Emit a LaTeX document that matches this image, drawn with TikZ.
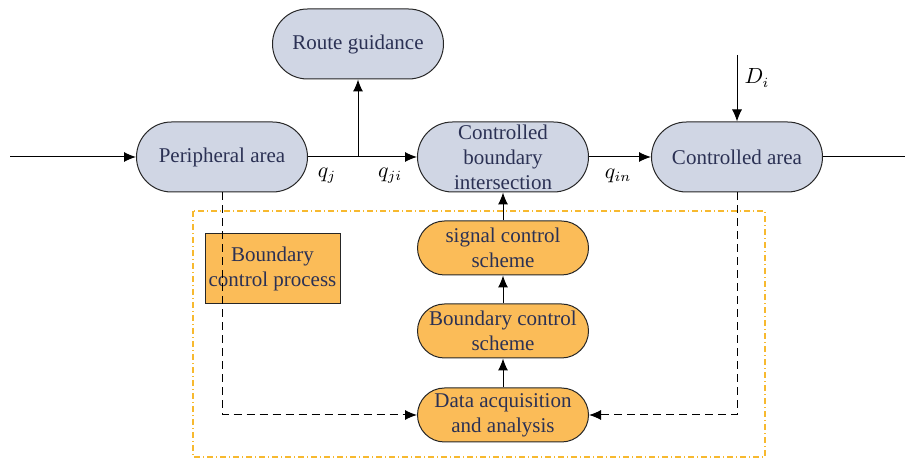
\documentclass[tikz,border=0pt]{standalone}
\usepackage{fontspec}
\setmainfont{Liberation Serif}
\usepackage{amsmath}
\usetikzlibrary{arrows.meta}

\definecolor{areafill}{HTML}{D0D6E4}
\definecolor{schemefill}{HTML}{FBBC58}
\definecolor{textnavy}{HTML}{2B3154}
\definecolor{frameorange}{HTML}{F7B92F}

\tikzset{
  area/.style={draw=black!85, fill=areafill, text=textnavy, align=center,
    rectangle, rounded corners=17.5pt, minimum width=85.5pt, minimum height=35pt,
    inner sep=1pt, font=\fontsize{10.5}{12.5}\selectfont},
  scheme/.style={area, fill=schemefill, rounded corners=13.5pt, minimum height=27pt},
  procbox/.style={draw=black!85, fill=schemefill, text=textnavy, align=center,
    minimum width=67.5pt, minimum height=35pt, inner sep=1pt,
    font=\fontsize{10.5}{12.5}\selectfont},
  flowlabel/.style={font=\fontsize{10.5}{12.5}\selectfont},
  feedback/.style={dash pattern=on 4pt off 2.5pt, ->},
  frame/.style={draw=frameorange, line width=0.6pt,
    dash pattern=on 3pt off 1.5pt on 0.5pt off 1.5pt}
}

\begin{document}
\begin{tikzpicture}[x=0.5pt, y=-0.5pt, line width=0.5pt, >={Latex[length=6pt,width=5pt]}]
    \useasboundingbox (0,0) rectangle (905,458);

    % control loop frame
    \draw[frame] (193,211) rectangle (765,457);

    % upper row
    \node[area] (route) at (358,44) {Route guidance};
    \node[area] (peri) at (222,157) {Peripheral area};
    \node[area] (cbi) at (503,157) {Controlled\\boundary\\intersection};
    \node[area] (ctrl) at (737,157) {Controlled area};

    % control chain
    \node[scheme] (signal) at (503,248) {signal control\\scheme};
    \node[scheme] (bcs) at (503,331) {Boundary control\\scheme};
    \node[scheme] (data) at (503,415) {Data acquisition\\and analysis};
    \node[procbox] (proc) at (272.5,269) {Boundary\\control process};

    \coordinate (in) at (10,157);
    \coordinate (out) at (905,157);
    \coordinate (branch) at (358,157);
    \coordinate (dtop) at (737,55);

    \draw[->] (in) -- (peri);
    \draw[->] (peri) -- (cbi);
    \draw[->] (branch) -- (route);
    \draw[->] (cbi) -- (ctrl);
    \draw (ctrl) -- (out);
    \draw[->] (dtop) -- (ctrl);

    \node[flowlabel] (qj) at (327,176) {$q_j$};
    \node[flowlabel] (qji) at (390,176) {$q_{ji}$};
    \node[flowlabel] (qin) at (618,176) {$q_{in}$};
    \node[flowlabel] (di) at (757,78) {$D_i$};

    \draw[->] (data) -- (bcs);
    \draw[->] (bcs) -- (signal);
    \draw[->] (signal) -- (cbi);

    % feedback
    \draw[feedback] (peri.south) |- (data.west);
    \draw[feedback] (ctrl.south) |- (data.east);
\end{tikzpicture}
\end{document}
